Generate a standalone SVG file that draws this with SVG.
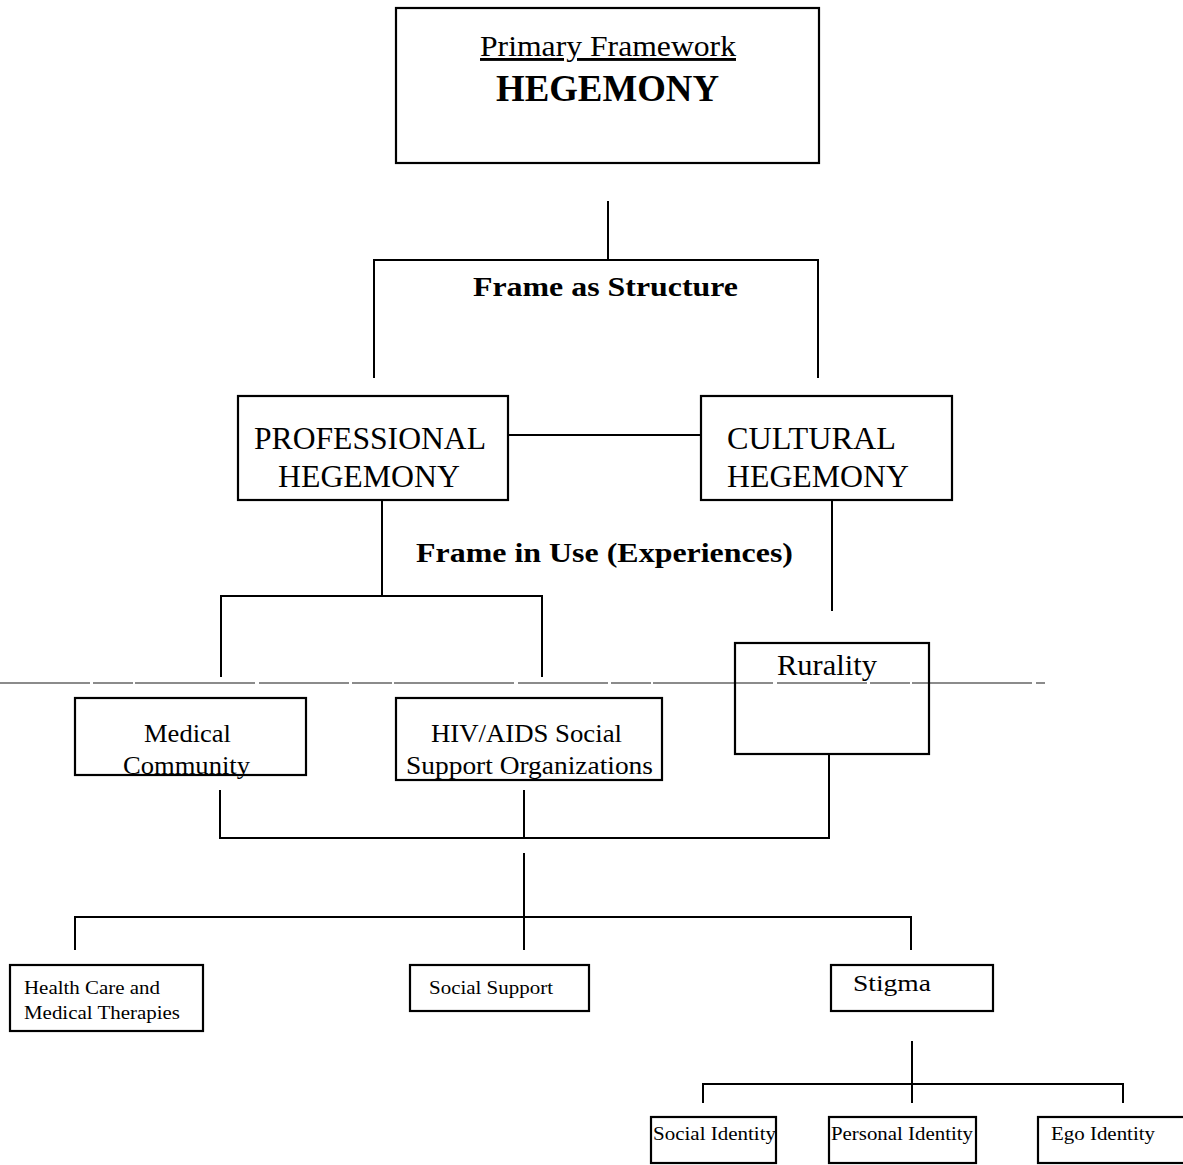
<svg xmlns="http://www.w3.org/2000/svg" width="1183" height="1165" viewBox="0 0 1183 1165">
<style>
.box{fill:none;stroke:#000;stroke-width:2.2}
.ln{fill:none;stroke:#000;stroke-width:2}
text{font-family:"Liberation Serif","Times New Roman",serif;fill:#000}
.b{font-weight:bold}
</style>
<rect width="1183" height="1165" fill="#fff"/>
<line x1="0" y1="683" x2="1045" y2="683" stroke="#666" stroke-width="1.3" stroke-dasharray="90 3 40 2 120 4"/>
<g id="connectors">
<path class="ln" d="M608 201V260M374 378V260H818V378"/>
<path class="ln" d="M508 435H701"/>
<path class="ln" d="M382 500V596M221 677V596H542V677"/>
<path class="ln" d="M832 500V611"/>
<path class="ln" d="M220 790V838H829V754M524 790V838"/>
<path class="ln" d="M524 853V950M75 950V917H911V950"/>
<path class="ln" d="M912 1041V1103M703 1103V1084H1123V1103"/>
</g>
<g id="labels">
<text x="473" y="296" font-size="27" class="b" textLength="265" lengthAdjust="spacingAndGlyphs">Frame as Structure</text>
<text x="416" y="562" font-size="27" class="b" textLength="377" lengthAdjust="spacingAndGlyphs">Frame in Use (Experiences)</text>
</g>
<g id="hegemony">
<rect class="box" x="396" y="8" width="423" height="155"/>
<text x="480" y="56" font-size="29" text-decoration="underline" textLength="256" lengthAdjust="spacingAndGlyphs">Primary Framework</text>
<text x="496" y="101" font-size="38" class="b" textLength="223" lengthAdjust="spacingAndGlyphs">HEGEMONY</text>
</g>
<g id="professional">
<rect class="box" x="238" y="396" width="270" height="104"/>
<text x="254" y="449" font-size="31" textLength="232" lengthAdjust="spacingAndGlyphs">PROFESSIONAL</text>
<text x="278" y="487" font-size="31" textLength="182" lengthAdjust="spacingAndGlyphs">HEGEMONY</text>
</g>
<g id="cultural">
<rect class="box" x="701" y="396" width="251" height="104"/>
<text x="727" y="449" font-size="31" textLength="169" lengthAdjust="spacingAndGlyphs">CULTURAL</text>
<text x="727" y="487" font-size="31" textLength="182" lengthAdjust="spacingAndGlyphs">HEGEMONY</text>
</g>
<g id="rurality">
<rect class="box" x="735" y="643" width="194" height="111"/>
<text x="777" y="675" font-size="29" textLength="100" lengthAdjust="spacingAndGlyphs">Rurality</text>
</g>
<g id="medical">
<rect class="box" x="75" y="698" width="231" height="77"/>
<text x="144" y="742" font-size="25" textLength="87" lengthAdjust="spacingAndGlyphs">Medical</text>
<text x="123" y="774" font-size="25" textLength="127" lengthAdjust="spacingAndGlyphs">Community</text>
</g>
<g id="hivaids">
<rect class="box" x="396" y="698" width="266" height="82"/>
<text x="431" y="742" font-size="25" textLength="191" lengthAdjust="spacingAndGlyphs">HIV/AIDS Social</text>
<text x="406" y="774" font-size="25" textLength="247" lengthAdjust="spacingAndGlyphs">Support Organizations</text>
</g>
<g id="healthcare">
<rect class="box" x="10" y="965" width="193" height="66"/>
<text x="24" y="994" font-size="19" textLength="136" lengthAdjust="spacingAndGlyphs">Health Care and</text>
<text x="24" y="1019" font-size="19" textLength="156" lengthAdjust="spacingAndGlyphs">Medical Therapies</text>
</g>
<g id="socialsupport">
<rect class="box" x="410" y="965" width="179" height="46"/>
<text x="429" y="994" font-size="19" textLength="124" lengthAdjust="spacingAndGlyphs">Social Support</text>
</g>
<g id="stigma">
<rect class="box" x="831" y="965" width="162" height="46"/>
<text x="853" y="991" font-size="24" textLength="78" lengthAdjust="spacingAndGlyphs">Stigma</text>
</g>
<g id="socialidentity">
<rect class="box" x="651" y="1117" width="125" height="46"/>
<text x="653" y="1140" font-size="19" textLength="123" lengthAdjust="spacingAndGlyphs">Social Identity</text>
</g>
<g id="personalidentity">
<rect class="box" x="829" y="1117" width="147" height="46"/>
<text x="831" y="1140" font-size="19" textLength="142" lengthAdjust="spacingAndGlyphs">Personal Identity</text>
</g>
<g id="egoidentity">
<rect class="box" x="1038" y="1117" width="150" height="46"/>
<text x="1051" y="1140" font-size="19" textLength="104" lengthAdjust="spacingAndGlyphs">Ego Identity</text>
</g>
</svg>
